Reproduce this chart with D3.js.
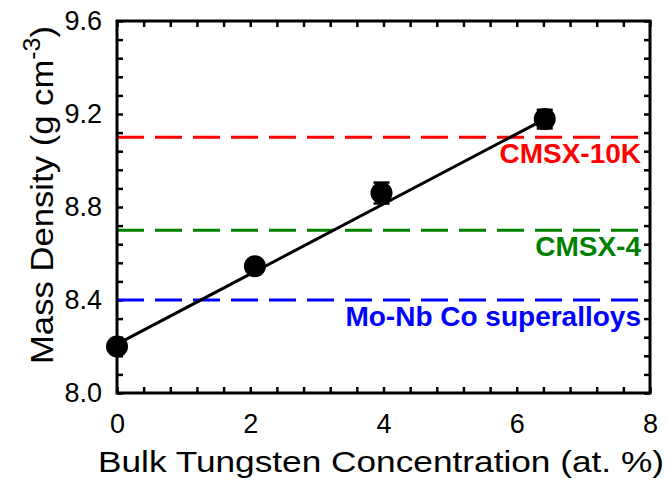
<!DOCTYPE html>
<html>
<head>
<meta charset="utf-8">
<script src="https://cdn.jsdelivr.net/npm/d3@7"></script>
<style>
body { margin: 0; background: #fff; }
text { font-family: Arial, "Liberation Sans", sans-serif; }
</style>
</head>
<body>
<script>
var tungsten = [0, 2.07, 3.97, 6.42];
var density = [8.20, 8.545, 8.86, 9.178];
var densityErr = [0.02, 0.02, 0.045, 0.04];
var fitX = [0, 6.42];
var fitY = [8.21, 9.178];
var alloyNames = ["CMSX-10K", "CMSX-4", "Mo-Nb Co superalloys"];
var alloyDensity = [9.10, 8.70, 8.40];
var alloyColors = ["#ff0000", "#008000", "#0000ff"];
var xTicks = [0, 2, 4, 6, 8];
var yTicks = [8.0, 8.4, 8.8, 9.2, 9.6];

var margin = {top: 21, right: 17, bottom: 89, left: 117},
    width = 667 - margin.left - margin.right,
    height = 482 - margin.top - margin.bottom;

var svg = d3.select("body").append("svg")
    .attr("width", 667)
    .attr("height", 482)
    .append("g")
    .attr("transform", "translate(" + margin.left + "," + margin.top + ")");

var x = d3.scaleLinear().domain([0, 8]).range([0, width]);
var y = d3.scaleLinear().domain([8.0, 9.6]).range([height, 0]);

// minor ticks, inward on all four sides
var xMinor = d3.range(0, 8.001, 0.4);
var yMinor = d3.range(8.0, 9.601, 0.08);

function tickAxis(axis, ticks, size, transform) {
    var g = svg.append("g")
        .attr("transform", transform)
        .call(axis.tickValues(ticks).tickSize(size).tickFormat(""));
    g.select(".domain").remove();
    g.selectAll("line").attr("stroke", "#000").attr("stroke-width", 2.5);
}
tickAxis(d3.axisBottom(x), xMinor, -6, "translate(0," + height + ")");
tickAxis(d3.axisTop(x), xMinor, -6, "translate(0,0)");
tickAxis(d3.axisLeft(y), yMinor, -6, "translate(0,0)");
tickAxis(d3.axisRight(y), yMinor, -6, "translate(" + width + ",0)");

// tick labels
var xAxis = svg.append("g")
    .attr("transform", "translate(0," + height + ")")
    .call(d3.axisBottom(x).tickValues(xTicks).tickSize(0).tickPadding(21).tickFormat(d3.format("d")));
xAxis.select(".domain").remove();
xAxis.attr("font-size", 27).attr("font-family", "Arial, 'Liberation Sans', sans-serif");
xAxis.selectAll("text").attr("fill", "#000");

var yAxis = svg.append("g")
    .call(d3.axisLeft(y).tickValues(yTicks).tickSize(0).tickPadding(15).tickFormat(d3.format(".1f")));
yAxis.select(".domain").remove();
yAxis.attr("font-size", 27).attr("font-family", "Arial, 'Liberation Sans', sans-serif");
yAxis.selectAll("text").attr("fill", "#000");

// reference alloy lines
alloyDensity.forEach(function(d, i) {
    svg.append("line")
        .attr("x1", x(0)).attr("x2", x(8))
        .attr("y1", y(d)).attr("y2", y(d))
        .attr("stroke", alloyColors[i])
        .attr("stroke-width", 3.2)
        .attr("stroke-dasharray", "27,11");
    svg.append("text")
        .attr("x", x(8) - 9)
        .attr("y", y(d) + 26)
        .attr("text-anchor", "end")
        .attr("font-size", 28)
        .attr("font-weight", "bold")
        .attr("fill", alloyColors[i])
        .text(alloyNames[i]);
});

// linear fit
svg.append("line")
    .attr("x1", x(fitX[0])).attr("y1", y(fitY[0]))
    .attr("x2", x(fitX[1])).attr("y2", y(fitY[1]))
    .attr("stroke", "#000")
    .attr("stroke-width", 3);

// error bars + points
tungsten.forEach(function(t, i) {
    var cx = x(t);
    var lo = y(density[i] - densityErr[i]), hi = y(density[i] + densityErr[i]);
    svg.append("line").attr("x1", cx).attr("x2", cx).attr("y1", lo).attr("y2", hi)
        .attr("stroke", "#000").attr("stroke-width", 2.5);
    [lo, hi].forEach(function(yy) {
        svg.append("line").attr("x1", cx - 8).attr("x2", cx + 8).attr("y1", yy).attr("y2", yy)
            .attr("stroke", "#000").attr("stroke-width", 2.5);
    });
});
svg.selectAll("circle.pt")
    .data(tungsten)
    .enter().append("circle")
    .attr("class", "pt")
    .attr("cx", function(d) { return x(d); })
    .attr("cy", function(d, i) { return y(density[i]); })
    .attr("r", 11)
    .attr("fill", "#000");

// frame
svg.append("rect")
    .attr("width", width).attr("height", height)
    .attr("fill", "none").attr("stroke", "#000").attr("stroke-width", 3);

// axis titles
svg.append("text")
    .attr("x", 264)
    .attr("y", height + 79)
    .attr("text-anchor", "middle")
    .attr("font-size", 30)
    .attr("textLength", 566)
    .attr("lengthAdjust", "spacingAndGlyphs")
    .text("Bulk Tungsten Concentration (at. %)");

var yt = svg.append("text")
    .attr("transform", "translate(-64," + (height / 2 - 12) + ") rotate(-90)")
    .attr("text-anchor", "middle")
    .attr("font-size", 32)
    .attr("textLength", 338)
    .attr("lengthAdjust", "spacingAndGlyphs");
yt.append("tspan").text("Mass Density (g cm");
yt.append("tspan").attr("dy", -13).attr("font-size", 23).text("-3");
yt.append("tspan").attr("dy", 13).text(")");
</script>
</body>
</html>
